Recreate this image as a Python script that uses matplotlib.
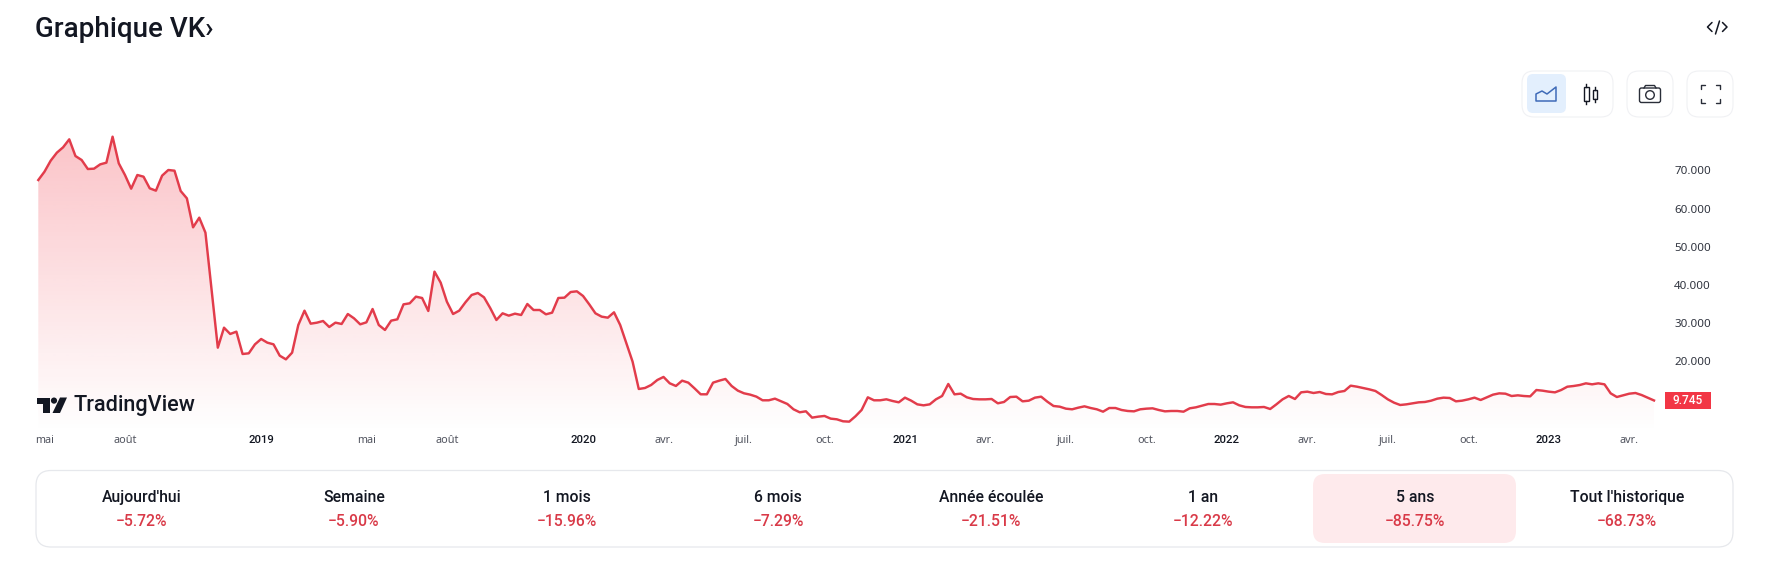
import numpy as np
import matplotlib
matplotlib.use("Agg")
import matplotlib.pyplot as plt
from matplotlib.patches import FancyBboxPatch, Rectangle, Polygon, Circle
from matplotlib.transforms import blended_transform_factory

plt.rcParams['font.family'] = ['Noto Sans', 'DejaVu Sans']

prices = [
    67.46, 69.64, 72.52, 74.62, 76.01, 78.11, 73.74, 72.70, 70.34, 70.43, 71.56, 72.0, 78.8, 71.82, 68.77, 65.19,
    68.77, 68.33, 65.28, 64.67, 68.6, 70.08, 69.9, 64.58, 62.66, 55.07, 57.6, 53.67, 38.67, 23.57, 28.8, 27.15,
    27.76, 21.91, 22.09, 24.44, 25.84, 24.88, 24.44, 21.47, 20.51, 22.26, 29.5, 33.25, 29.85, 30.11, 30.55, 28.98,
    30.12, 29.77, 32.38, 31.25, 29.68, 30.2, 33.69, 29.5, 28.2, 30.64, 30.99, 34.91, 35.18, 36.92, 36.57, 33.17,
    43.47, 40.59, 35.61, 32.38, 33.26, 35.44, 37.36, 37.88, 36.75, 33.95, 30.81, 32.56, 31.95, 32.47, 32.12, 35.0,
    33.43, 33.43, 32.3, 32.73, 36.57, 36.66, 38.14, 38.32, 37.1, 34.91, 32.56, 31.69, 31.42, 32.82, 29.5,
    24.71, 19.91, 12.75, 13.01, 13.8, 15.11, 15.9, 14.24, 13.54, 14.93, 14.41, 12.93, 11.36, 11.36, 14.41, 14.93,
    15.37, 13.54, 12.32, 11.62, 11.27, 10.75, 9.79, 9.79, 10.22, 9.52, 8.83, 7.43, 6.65, 6.91, 5.25, 5.51, 5.69,
    4.99, 4.81, 4.29, 4.2, 5.6, 7.26, 10.57, 9.79, 9.79, 10.05, 9.61, 9.26, 10.48, 9.7,
    8.73, 8.47, 8.73, 10.04, 10.92, 14.06, 11.35, 11.53, 10.57, 10.13, 10.04, 10.04, 10.13, 9.0, 9.35, 10.65, 10.74,
    9.52, 9.69, 10.48, 10.74, 9.43, 8.3, 8.12, 7.6, 7.43, 7.86, 8.21, 7.77, 7.43, 6.81, 7.77, 7.77, 7.25, 6.99, 6.9,
    7.43, 7.6, 7.69, 7.25, 6.9, 6.99, 6.99, 6.81, 7.69, 7.95, 8.38,
    8.82, 8.82, 8.65, 9.0, 9.26, 8.47, 8.04, 7.95, 7.95, 8.04, 7.51, 8.73, 10.04, 10.92, 10.13, 11.88, 12.05, 11.7,
    11.96, 11.44, 11.35, 11.96, 12.23, 13.62, 13.36, 13.01, 12.66, 12.23, 11.18, 10.04, 9.17, 8.56, 8.73, 9.0, 9.26,
    9.35, 9.69, 10.22, 10.48, 10.39, 9.52, 9.69, 10.04, 10.48, 9.87, 10.57, 11.27,
    11.61, 11.52, 10.91, 11.09, 10.91, 10.82, 12.48, 12.31, 12.05, 11.87, 12.48, 13.35, 13.53, 13.79, 14.23, 13.97,
    14.23, 13.97, 11.61, 10.65, 11.09, 11.52, 11.7, 11.17, 10.47, 9.745,
]
xtick_pos = [1, 14, 36, 53, 66, 88, 101, 114, 127, 140, 153, 166, 179, 192, 205, 218, 231, 244, 257]
xtick_labels = ['mai', 'août', '2019', 'mai', 'août', '2020', 'avr.', 'juil.', 'oct.', '2021', 'avr.', 'juil.',
                'oct.', '2022', 'avr.', 'juil.', 'oct.', '2023', 'avr.']
ytick_vals = [70, 60, 50, 40, 30, 20]
ytick_labels = ['70.000', '60.000', '50.000', '40.000', '30.000', '20.000']
period_labels = ["Aujourd'hui", 'Semaine', '1 mois', '6 mois', 'Année écoulée', '1 an', '5 ans', "Tout l'historique"]
period_changes = ['−5.72%', '−5.90%', '−15.96%', '−7.29%', '−21.51%', '−12.22%', '−85.75%', '−68.73%']
last_label = '9.745'

W, H = 1766, 569
RED = '#f23645'
LINE = '#e23c4b'
DARK = '#131722'
MEDIUM = ['Roboto', 'Noto Sans', 'DejaVu Sans']
fig = plt.figure(figsize=(W / 100, H / 100), dpi=100, facecolor='white')

# Chart axes: pixel box (38.3..1654, 120..432)
L, R, T, B = 38.3, 1654.0, 120.0, 432.0
ax = fig.add_axes([L / W, 1 - B / H, (R - L) / W, (B - T) / H])
x = np.arange(len(prices))
y = np.array(prices)
ymin, ymax = 1.49, 83.17
ax.set_xlim(0, len(prices) - 1)
ax.set_ylim(ymin, ymax)

# gradient fill clipped by the area below the line
poly = ax.fill_between(x, y, ymin, color='none', lw=0)
grad = np.zeros((256, 2, 4))
rgb = matplotlib.colors.to_rgb(RED)
grad[..., 0], grad[..., 1], grad[..., 2] = rgb
grad[..., 3] = np.linspace(0.30, 0.0, 256)[:, None]
im = ax.imshow(grad, extent=[0, len(prices) - 1, ymin, max(prices) + 1], origin='upper',
               aspect='auto', zorder=1, interpolation='bilinear')
im.set_clip_path(poly.get_paths()[0], transform=ax.transData)
ax.set_xlim(0, len(prices) - 1)
ax.set_ylim(ymin, ymax)
ax.plot(x, y, color=LINE, lw=1.75, zorder=3, solid_joinstyle='round', clip_on=False)

for s in ax.spines.values():
    s.set_visible(False)
ax.patch.set_alpha(0)
ax.yaxis.tick_right()
ax.set_yticks(ytick_vals)
ax.set_yticklabels(ytick_labels, fontsize=8.3, color='#2f333e', ha='right')
ax.tick_params(axis='y', length=0, pad=41)
ax.set_xticks(xtick_pos)
ax.set_xticklabels(xtick_labels, fontsize=7.8, color='#50535e')
for lab in ax.get_xticklabels():
    if lab.get_text().isdigit():
        lab.set_color(DARK)
        lab.set_family(MEDIUM)
        lab.set_fontweight('medium')
        lab.set_fontsize(8.2)
ax.tick_params(axis='x', length=0, pad=2.5)

# Overlay in figure pixels for page furniture
ui = fig.add_axes([0, 0, 1, 1], zorder=5)
ui.set_xlim(0, W)
ui.set_ylim(H, 0)
ui.axis('off')
ui.patch.set_alpha(0)


def rbox(x0, y0, x1, y1, r, fc='white', ec='#eceef2', lw=0.8, z=1):
    ui.add_patch(FancyBboxPatch((x0 + r, y0 + r), x1 - x0 - 2 * r, y1 - y0 - 2 * r,
                                boxstyle=f'round,pad={r},rounding_size={r}', fc=fc, ec=ec, lw=lw, zorder=z))


# Price label tied to the last value
tr = blended_transform_factory(ui.transData, ax.transData)
ax.add_patch(Rectangle((1665, prices[-1] - 2.2), 46, 4.4, transform=tr, fc=RED, ec='none', clip_on=False, zorder=6))
ax.text(1688, prices[-1], last_label, transform=tr, color='white', fontsize=8.6, fontweight='medium', family=MEDIUM,
        ha='center', va='center', zorder=7, clip_on=False)

# Title
ui.text(35, 29.5, 'Graphique VK›', fontsize=20, fontweight='medium', family=MEDIUM, color=DARK, ha='left', va='center')

# </> icon
ic = dict(color=DARK, lw=1.1, solid_capstyle='round', solid_joinstyle='round')
ui.plot([1712, 1707.5, 1712], [22.5, 27, 31.5], **ic)
ui.plot([1722.5, 1727, 1722.5], [22.5, 27, 31.5], **ic)
ui.plot([1719.5, 1715.5], [21, 34], **ic)

# Toolbar buttons
rbox(1522, 71, 1613, 117, 12, ec='#f0f1f4')
rbox(1527, 74, 1566, 113, 6, fc='#e3effd', ec='none', lw=0, z=2)
rbox(1627, 71, 1673, 117, 12, ec='#f0f1f4')
rbox(1687, 71, 1733, 117, 12, ec='#f0f1f4')
ui.add_patch(Polygon([[1536, 101], [1536, 94], [1542, 91], [1547, 94], [1556, 87], [1556, 101]], closed=True,
                     fc='none', ec='#3f6bb8', lw=1.1, zorder=3, joinstyle='round'))
# candles
for cx, top, bot, wtop, wbot in [(1586.3, 87, 101, 84, 104), (1594.7, 90, 99, 87, 102)]:
    ui.add_patch(Rectangle((cx - 2.2, top), 4.4, bot - top, fc='white', ec=DARK, lw=1.0, zorder=3))
    ui.plot([cx, cx], [wtop, top], color=DARK, lw=1.0, zorder=3)
    ui.plot([cx, cx], [bot, wbot], color=DARK, lw=1.0, zorder=3)
# camera
rbox(1639.5, 88, 1660.5, 102.5, 2, fc='none', ec='#2a2e39', lw=1.0, z=3)
ui.plot([1644, 1645.5, 1654.5, 1656], [88, 85.5, 85.5, 88], color='#2a2e39', lw=1.0, zorder=3)
ui.add_patch(Circle((1650, 95), 4.3, fc='none', ec='#2a2e39', lw=1.0, zorder=3))
# full screen
fs = dict(color='#2a2e39', lw=1.0, zorder=3, solid_capstyle='round')
ui.plot([1700.5, 1700.5, 1704.5], [89, 84.5, 84.5], **fs)
ui.plot([1715.5, 1719.5, 1719.5], [84.5, 84.5, 89], **fs)
ui.plot([1700.5, 1700.5, 1704.5], [98.5, 103, 103], **fs)
ui.plot([1715.5, 1719.5, 1719.5], [103, 103, 98.5], **fs)

# TradingView logo
ui.add_patch(Polygon([[36.5, 397.5], [49.5, 397.5], [49.5, 413], [42.5, 413], [42.5, 404], [36.5, 404]],
                     closed=True, fc=DARK, ec='none', zorder=4))
ui.add_patch(Circle((54, 400.6), 3.1, fc=DARK, ec='none', zorder=4))
ui.add_patch(Polygon([[60, 397.5], [67, 397.5], [60, 413], [52.5, 413]], closed=True, fc=DARK, ec='none', zorder=4))
ui.text(74, 405, 'TradingView', fontsize=15.6, fontweight='medium', family=MEDIUM, color=DARK, ha='left', va='center', zorder=4)

# Period performance row
rbox(36, 470.5, 1733, 547, 15, ec='#e6e8ec', lw=0.9)
rbox(1313, 474, 1516, 543, 12, fc='#feeaec', ec='none', lw=0, z=2)
centers = [142, 354, 567, 778, 991, 1203, 1415, 1627]
for cx, lab, val in zip(centers, period_labels, period_changes):
    ui.text(cx, 497.3, lab, fontsize=11.3, fontweight='medium', family=MEDIUM, color=DARK, ha='center', va='center', zorder=3)
    ui.text(cx, 521.3, val, fontsize=11.3, fontweight='medium', family=MEDIUM, color='#d93a48', ha='center', va='center', zorder=3)

fig.savefig('out.png', dpi=100, facecolor='white')
